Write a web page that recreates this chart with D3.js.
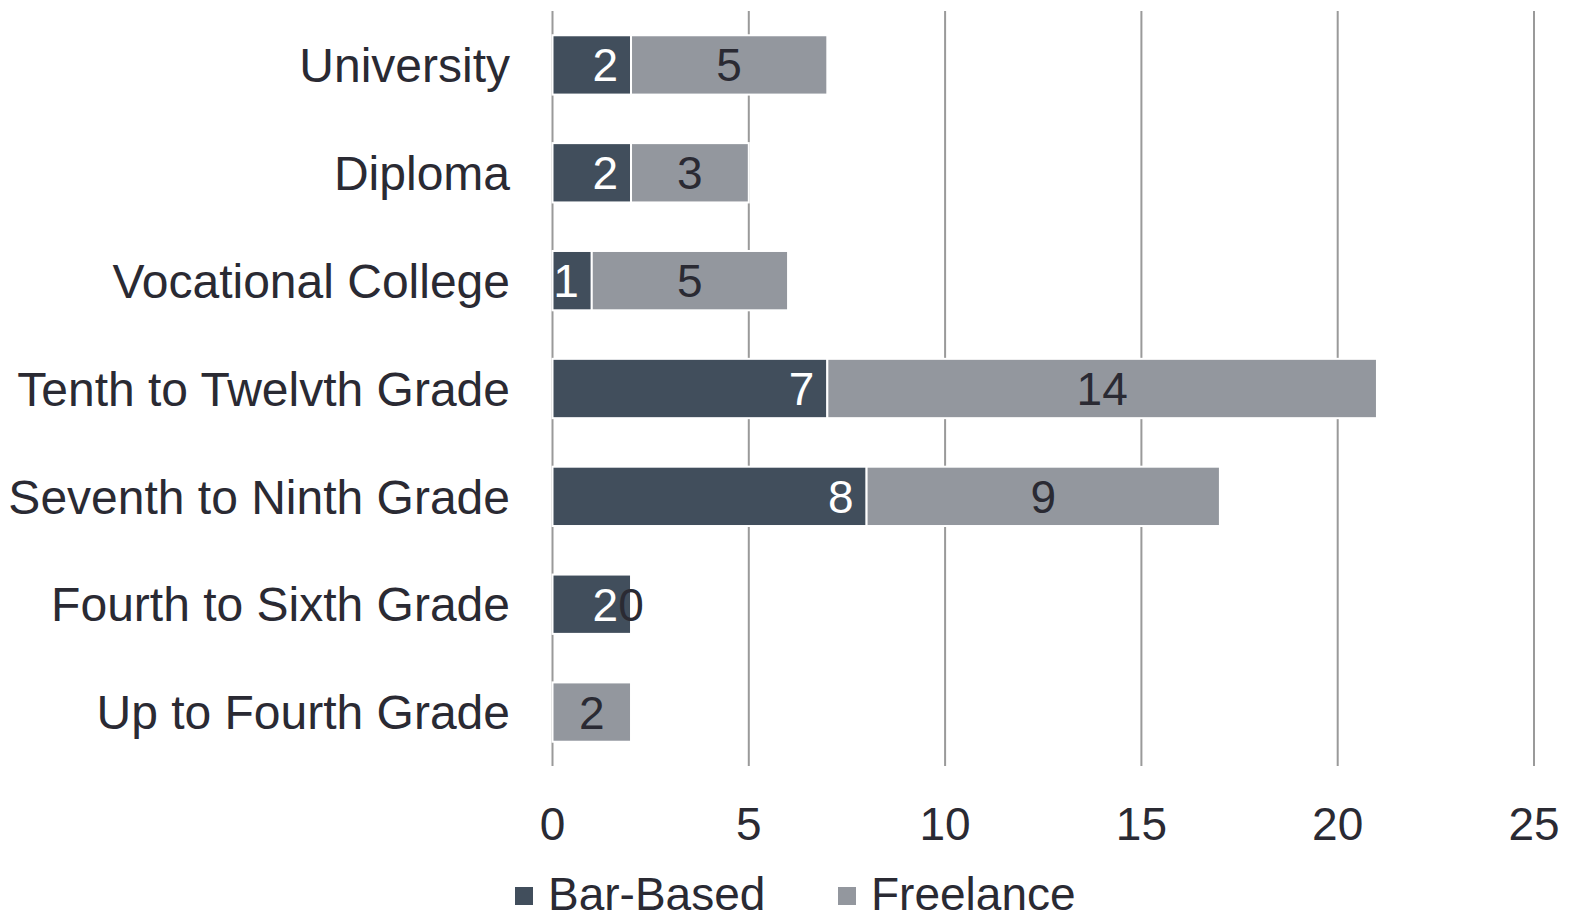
<!DOCTYPE html>
<html>
<head>
<meta charset="utf-8">
<script src="https://cdn.jsdelivr.net/npm/d3@7"></script>
<style>
  body { margin: 0; background: #fff; }
  text { font-family: "Liberation Sans", Arial, sans-serif; }
</style>
</head>
<body>
<script>
// Datos del gráfico
const categorias = ["University", "Diploma", "Vocational College", "Tenth to Twelvth Grade",
  "Seventh to Ninth Grade", "Fourth to Sixth Grade", "Up to Fourth Grade"];
const barBased = [2, 2, 1, 7, 8, 2, 0];
const freelance = [5, 3, 5, 14, 9, 0, 2];
const series = ["Bar-Based", "Freelance"];
const ticks = [0, 5, 10, 15, 20, 25];

const colores = { "Bar-Based": "#414e5c", "Freelance": "#93979e" };
const colorTexto = "#2a2a33";

const svg = d3.select("body").append("svg").attr("width", 1571).attr("height", 919);

const x = d3.scaleLinear().domain([0, 25]).range([552.5, 1534]);
const y = d3.scaleBand().domain(categorias).range([11, 766]).paddingInner(0.45).paddingOuter(0.225);

// Líneas de cuadrícula
svg.append("g").selectAll("line").data(ticks).join("line")
  .attr("x1", d => x(d)).attr("x2", d => x(d))
  .attr("y1", 11).attr("y2", 766)
  .attr("stroke", "#9a9a9a").attr("stroke-width", 2);

// Etiquetas del eje x
svg.append("g").selectAll("text").data(ticks).join("text")
  .attr("x", d => x(d)).attr("y", 840)
  .attr("text-anchor", "middle")
  .attr("font-size", 46).attr("fill", colorTexto)
  .text(d => d);

// Etiquetas de categoría
svg.append("g").selectAll("text").data(categorias).join("text")
  .attr("x", 510).attr("y", d => y(d) + y.bandwidth() / 2)
  .attr("dy", "0.36em")
  .attr("text-anchor", "end")
  .attr("font-size", 48).attr("fill", colorTexto)
  .text(d => d);

// Apilamos los datos
const filas = categorias.map((c, i) => ({ cat: c, "Bar-Based": barBased[i], "Freelance": freelance[i] }));
const stack = d3.stack().keys(series)(filas);

const grupos = svg.append("g").selectAll("g").data(stack).join("g")
  .attr("fill", d => colores[d.key]);

grupos.selectAll("rect").data(d => d).join("rect")
  .attr("x", d => x(d[0]))
  .attr("y", d => y(d.data.cat))
  .attr("width", d => x(d[1]) - x(d[0]))
  .attr("height", y.bandwidth())
  .attr("stroke", "#fff").attr("stroke-width", 2);

// Etiquetas de valores
stack.forEach(s => {
  svg.append("g").selectAll("text").data(s).join("text")
    .attr("x", d => s.key === "Bar-Based" ? x(d[1]) - 13 : (x(d[0]) + x(d[1])) / 2)
    .attr("y", d => y(d.data.cat) + y.bandwidth() / 2)
    .attr("dy", "0.36em")
    .attr("text-anchor", s.key === "Bar-Based" ? "end" : "middle")
    .attr("font-size", 46)
    .attr("fill", s.key === "Bar-Based" ? "#fff" : colorTexto)
    .text(d => d[1] - d[0]);
});

// Leyenda
const leyenda = svg.append("g").selectAll("g").data(series).join("g")
  .attr("transform", (d, i) => `translate(${[515, 838][i]}, 893)`);
leyenda.append("rect").attr("x", 0).attr("y", -6).attr("width", 18).attr("height", 18)
  .attr("fill", d => colores[d]);
leyenda.append("text").attr("x", 33).attr("dy", "0.36em")
  .attr("font-size", 46).attr("fill", colorTexto)
  .text(d => d);
</script>
</body>
</html>
